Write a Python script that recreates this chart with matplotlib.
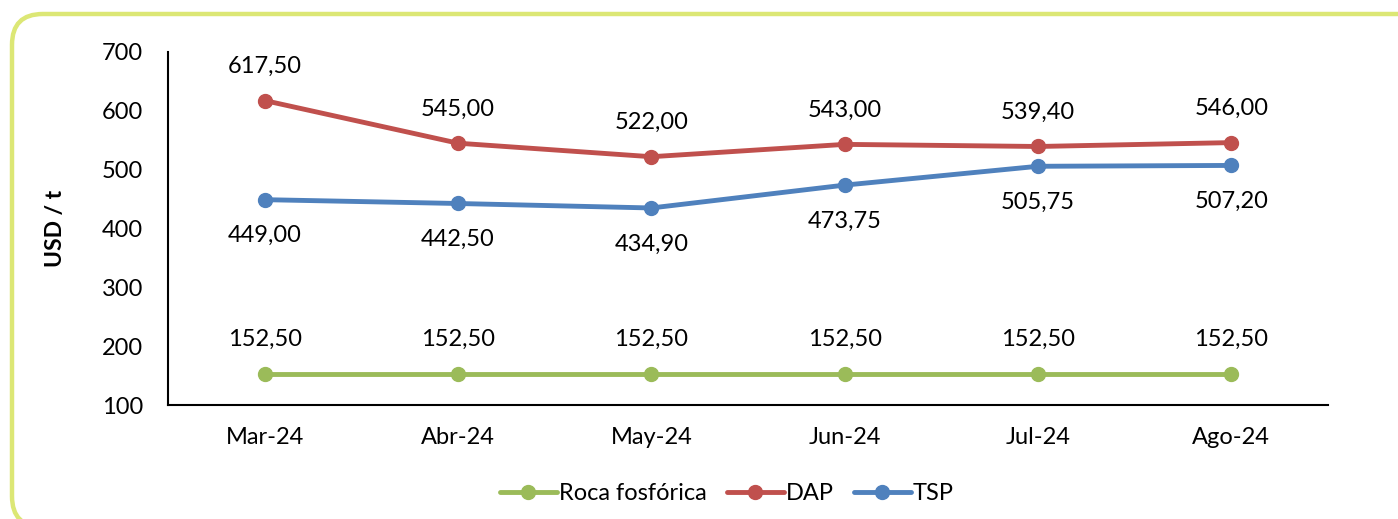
import matplotlib
matplotlib.use("Agg")
import matplotlib.pyplot as plt
from matplotlib.patches import FancyBboxPatch

plt.rcParams['font.family'] = ['Lato', 'DejaVu Sans']

categories = ["Mar-24", "Abr-24", "May-24", "Jun-24", "Jul-24", "Ago-24"]
roca = [152.50, 152.50, 152.50, 152.50, 152.50, 152.50]
dap = [617.50, 545.00, 522.00, 543.00, 539.40, 546.00]
tsp = [449.00, 442.50, 434.90, 473.75, 505.75, 507.20]

c_roca = "#9bbb59"
c_dap = "#c0504d"
c_tsp = "#4f81bd"

fig = plt.figure(figsize=(13.98, 5.19), dpi=100)
border = FancyBboxPatch((12/1398, -8/519), 1.2, (519 - 14 + 8)/519,
                        boxstyle="round,pad=0,rounding_size=0.022",
                        transform=fig.transFigure, facecolor="none",
                        edgecolor="#dce775", linewidth=3.2, clip_on=False, zorder=0,
                        mutation_aspect=1398/519)
fig.patches.append(border)

ax = fig.add_axes([168/1398, 1-405/519, (1328-168)/1398, (405-52)/519])
ax.patch.set_alpha(0)
x = list(range(len(categories)))

def fmt(v):
    return f"{v:.2f}".replace(".", ",")

FS = 17
l1, = ax.plot(x, roca, color=c_roca, lw=3.5, marker="o", ms=10, label="Roca fosfórica",
              solid_capstyle="round")
l2, = ax.plot(x, dap, color=c_dap, lw=3.5, marker="o", ms=10, label="DAP",
              solid_capstyle="round")
l3, = ax.plot(x, tsp, color=c_tsp, lw=3.5, marker="o", ms=10, label="TSP",
              solid_capstyle="round")

for i in x:
    ax.annotate(fmt(roca[i]), (i, roca[i]), xytext=(0, 35), textcoords="offset pixels",
                ha="center", va="center", fontsize=FS)
    ax.annotate(fmt(dap[i]), (i, dap[i]), xytext=(0, 34), textcoords="offset pixels",
                ha="center", va="center", fontsize=FS)
    ax.annotate(fmt(tsp[i]), (i, tsp[i]), xytext=(0, -36), textcoords="offset pixels",
                ha="center", va="center", fontsize=FS)

ax.set_xlim(-0.5, len(categories) - 0.5)
ax.set_ylim(100, 700)
ax.set_yticks([100, 200, 300, 400, 500, 600, 700])
ax.set_xticks(x)
ax.set_xticklabels(categories)
ax.tick_params(axis="both", length=0, labelsize=FS)
ax.tick_params(axis="x", pad=16)
ax.tick_params(axis="y", pad=18)
for s in ["top", "right"]:
    ax.spines[s].set_visible(False)
for s in ["left", "bottom"]:
    ax.spines[s].set_linewidth(1.5)
ax.set_ylabel("USD / t", fontsize=16.5, fontweight="bold", labelpad=26)

fig.legend(handles=[l1, l2, l3], loc="center", bbox_to_anchor=(727/1398, 1-494/519),
           ncol=3, frameon=False, fontsize=FS, handlelength=2.4, handletextpad=0.1,
           columnspacing=0.85)

fig.savefig("out.png", dpi=100)
